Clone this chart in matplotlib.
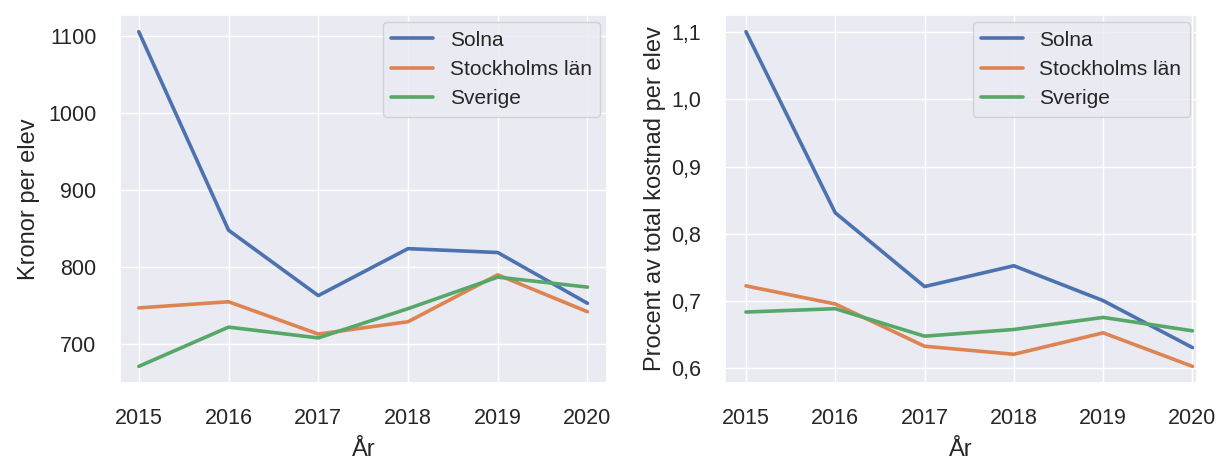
import matplotlib
matplotlib.use("Agg")
import matplotlib.pyplot as plt
import seaborn as sns
from matplotlib.ticker import FuncFormatter

sns.set_theme()
plt.rcParams['font.family'] = ['Arial', 'Liberation Sans', 'DejaVu Sans']

years = [2015, 2016, 2017, 2018, 2019, 2020]
series = ["Solna", "Stockholms län", "Sverige"]

# kronor per elev
solna_kr = [1106, 848, 763, 824, 819, 753]
sthlm_kr = [747, 755, 713, 729, 790, 742]
sverige_kr = [671, 722, 708, 746, 787, 774]

# procent av total kostnad per elev
solna_pct = [1.101, 0.831, 0.721, 0.752, 0.700, 0.630]
sthlm_pct = [0.722, 0.695, 0.632, 0.620, 0.652, 0.602]
sverige_pct = [0.683, 0.688, 0.647, 0.657, 0.675, 0.655]

fig = plt.figure(figsize=(12.18, 4.61), dpi=100)
ax1 = fig.add_axes([0.0985, 0.169, 0.400, 0.7985])
ax2 = fig.add_axes([0.5952, 0.169, 0.3875, 0.7985])

for vals, name in zip([solna_kr, sthlm_kr, sverige_kr], series):
    ax1.plot(years, vals, lw=2.6, label=name)
ax1.set_ylabel("Kronor per elev", fontsize=17, labelpad=6)
ax1.set_yticks([700, 800, 900, 1000, 1100])
ax1.set_xlim(2014.79, 2020.22)

for vals, name in zip([solna_pct, sthlm_pct, sverige_pct], series):
    ax2.plot(years, vals, lw=2.6, label=name)
ax2.set_ylabel("Procent av total kostnad per elev", fontsize=17)
ax2.set_yticks([0.6, 0.7, 0.8, 0.9, 1.0, 1.1])
ax2.yaxis.set_major_formatter(FuncFormatter(lambda v, p: f"{v:.1f}".replace(".", ",")))
ax2.set_xlim(2014.765, 2020.05)

for ax in (ax1, ax2):
    ax.set_xticks(years)
    ax.set_xlabel("År", fontsize=17, labelpad=7)
    ax.tick_params(axis="x", labelsize=15.5, pad=12)
    ax.tick_params(axis="y", labelsize=15.5, pad=11)
    ax.legend(loc="upper right", fontsize=15, borderaxespad=0.35)

fig.savefig("out.png", dpi=100)
